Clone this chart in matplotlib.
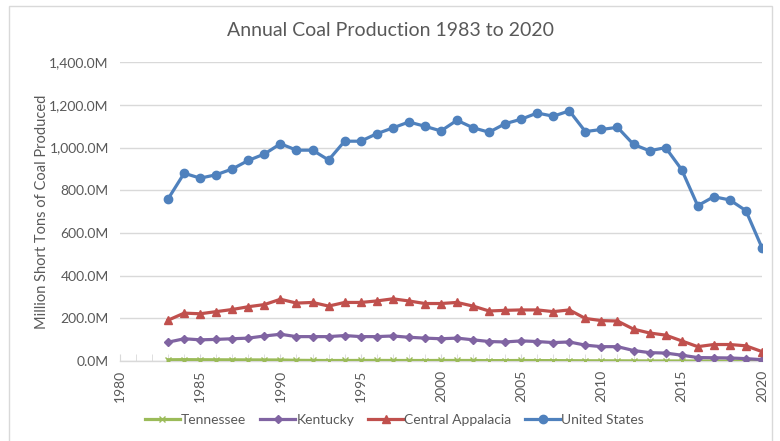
import matplotlib
matplotlib.use("Agg")
import matplotlib.pyplot as plt
from matplotlib.patches import Rectangle
from matplotlib.ticker import FuncFormatter, MultipleLocator

years = list(range(1983, 2021))

united_states = [760, 880, 857, 873, 900, 940, 970, 1018, 988, 988,
                 942, 1030, 1030, 1065, 1092, 1120, 1100, 1078, 1128, 1093,
                 1072, 1112, 1133, 1162, 1147, 1172, 1075, 1085, 1095, 1015,
                 985, 1000, 897, 728, 770, 755, 705, 532]
central_appalacia = [192, 225, 222, 232, 242, 255, 265, 290, 272, 275,
                     258, 275, 275, 282, 292, 282, 270, 270, 275, 258,
                     235, 238, 240, 240, 232, 240, 200, 190, 188, 150,
                     132, 122, 95, 68, 78, 78, 72, 45]
kentucky = [89, 105, 100, 102, 105, 108, 118, 126, 115, 115,
            115, 120, 115, 115, 118, 112, 108, 105, 108, 100,
            92, 90, 95, 92, 87, 90, 75, 68, 68, 50,
            40, 38, 28, 17, 16, 15, 12, 7]
tennessee = [6.6, 7.2, 6.8, 6.5, 6.2, 6.0, 5.8, 5.6, 4.0, 3.5,
             3.0, 3.2, 3.4, 3.5, 3.3, 3.2, 3.0, 3.4, 3.3, 3.2,
             2.6, 2.8, 3.2, 2.8, 2.6, 2.3, 1.9, 1.7, 1.6, 1.4,
             1.1, 1.0, 0.9, 0.7, 0.6, 0.5, 0.4, 0.3]

GREY = '#595959'
plt.rcParams['font.family'] = ['Lato', 'DejaVu Sans']

fig = plt.figure(figsize=(7.8, 4.41), dpi=100)
ax = fig.add_axes([0.1538, 0.181, 0.823, 0.678])

# chart area outline
fig.patches.append(Rectangle((9 / 780, -0.05), 763 / 780, 1 - 6 / 441 + 0.05,
                             transform=fig.transFigure, fill=False,
                             edgecolor='#d9d9d9', linewidth=1))

ax.plot(years, tennessee, color='#9BBB59', marker='x', markersize=5,
        linewidth=2.3, label='Tennessee', zorder=3)
ax.plot(years, kentucky, color='#8064A2', marker='D', markersize=4.5,
        linewidth=2.3, label='Kentucky', zorder=4)
ax.plot(years, central_appalacia, color='#C0504D', marker='^', markersize=6,
        linewidth=2.3, label='Central Appalacia', zorder=5)
ax.plot(years, united_states, color='#4F81BD', marker='o', markersize=6,
        linewidth=2.3, label='United States', zorder=6)

ax.set_xlim(1980, 2020)
ax.set_ylim(0, 1400)
ax.yaxis.set_major_locator(MultipleLocator(200))
ax.yaxis.set_major_formatter(FuncFormatter(lambda v, p: f'{v:,.1f}M'))
ax.xaxis.set_major_locator(MultipleLocator(5))
ax.xaxis.set_minor_locator(MultipleLocator(1))

ax.grid(axis='y', color='#d9d9d9', linewidth=1)
ax.set_axisbelow(True)
for s in ['top', 'right', 'left']:
    ax.spines[s].set_visible(False)
ax.spines['bottom'].set_color('#d9d9d9')
ax.spines['bottom'].set_linewidth(1)

ax.tick_params(axis='y', length=0, labelsize=10, labelcolor=GREY, pad=8)
ax.tick_params(axis='x', which='both', direction='in', color='#d9d9d9',
               labelsize=10, labelcolor=GREY, labelrotation=90, pad=6)
ax.tick_params(axis='x', which='major', length=5)
ax.tick_params(axis='x', which='minor', length=5)

ax.set_ylabel('Million Short Tons of Coal Produced', fontsize=10.5,
              color=GREY, labelpad=0)
fig.text(0.501, 0.93, 'Annual Coal Production 1983 to 2020', ha='center',
         va='center', fontsize=14, color=GREY)

leg = fig.legend(loc='center', bbox_to_anchor=(0.506, 0.047), ncol=4,
                 frameon=False, fontsize=10, handlelength=2.5,
                 handletextpad=0.1, columnspacing=1.0)
for t in leg.get_texts():
    t.set_color(GREY)

fig.savefig('out.png', dpi=100)
